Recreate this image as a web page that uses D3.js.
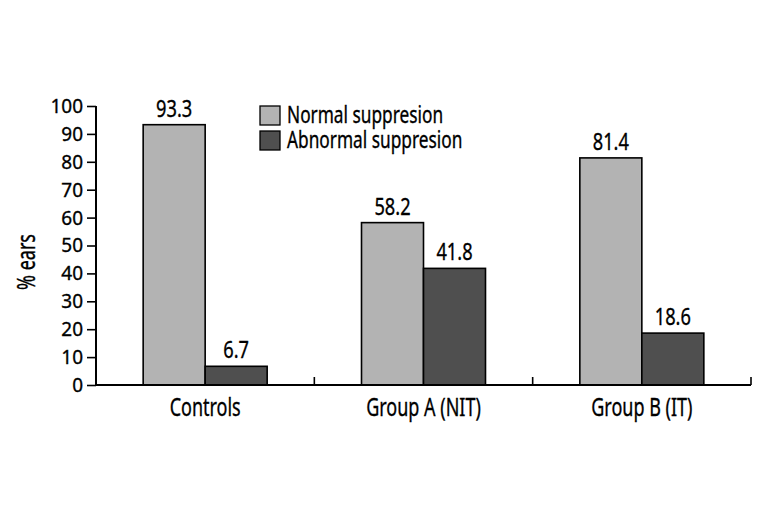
<!DOCTYPE html>
<html>
<head>
<meta charset="utf-8">
<script src="https://cdn.jsdelivr.net/npm/d3@7"></script>
<style>
  html, body { margin: 0; padding: 0; background: #fff; }
  svg text { font-family: "Noto Sans", "Open Sans", "DejaVu Sans", sans-serif; fill: #000; stroke: #000; stroke-width: 0.35px; }
</style>
</head>
<body>
<svg id="chart" width="771" height="514"></svg>
<script>
const categories = ["Controls", "Group A (NIT)", "Group B (IT)"];
const seriesNames = ["Normal suppresion", "Abnormal suppresion"];
const normalValues = [93.3, 58.2, 81.4];
const abnormalValues = [6.7, 41.8, 18.6];
const yTicks = [0, 10, 20, 30, 40, 50, 60, 70, 80, 90, 100];
const yTitle = "% ears";
const colors = ["#b3b3b3", "#4f4f4f"];

(function () {
const svg = d3.select("#chart");
const mLeft = 96, mRight = 751, mTop = 106, mBottom = 385;
const SX = 0.72, SXV = 0.76, SXT = 0.95; // horizontal condensing of the font

const x = d3.scaleBand().domain(categories).range([mLeft, mRight]).padding(0);
const inner = d3.scaleBand().domain(seriesNames).range([0, 124]).padding(0);
const y = d3.scaleLinear().domain([0, 100]).range([mBottom, mTop]);

const rows = categories.map((c, i) => ({ cat: c, vals: [normalValues[i], abnormalValues[i]] }));

// bars
const groups = svg.append("g").selectAll("g").data(rows).join("g")
  .attr("transform", d => `translate(${x(d.cat) + (x.bandwidth() - 124) / 2},0)`);

groups.selectAll("rect").data(d => d.vals.map((v, j) => ({ v, s: seriesNames[j], j })))
  .join("rect")
  .attr("x", d => inner(d.s))
  .attr("width", inner.bandwidth())
  .attr("y", d => y(d.v))
  .attr("height", d => y(0) - y(d.v))
  .attr("fill", d => colors[d.j])
  .attr("stroke", "#000")
  .attr("stroke-width", 1.6);

groups.selectAll("text.val").data(d => d.vals.map((v, j) => ({ v, s: seriesNames[j] })))
  .join("text")
  .attr("class", "val")
  .attr("transform", d => `translate(${inner(d.s) + inner.bandwidth() / 2},${y(d.v) - 8}) scale(${SXV},1)`)
  .attr("text-anchor", "middle")
  .style("font-size", "24px")
  .text(d => d.v.toFixed(1));

// y axis
const yAxis = svg.append("g").attr("transform", `translate(${mLeft},0)`)
  .call(d3.axisLeft(y).tickValues(yTicks).tickSize(9).tickPadding(4).tickFormat(d3.format("d")));
yAxis.attr("font-family", null).attr("font-size", null);
yAxis.select(".domain").attr("stroke", "#000").attr("stroke-width", 2).attr("d", `M0,${mBottom}V${mTop}`);
yAxis.selectAll(".tick line").attr("stroke", "#000").attr("stroke-width", 1.6);
yAxis.selectAll(".tick text").style("font-size", "20px")
  .attr("x", -13 / SXT).attr("transform", `scale(${SXT},1)`);

// x axis
const xAxisG = svg.append("g");
xAxisG.append("line").attr("x1", mLeft - 1).attr("x2", mRight).attr("y1", mBottom).attr("y2", mBottom)
  .attr("stroke", "#000").attr("stroke-width", 2);
xAxisG.selectAll("line.tk").data(categories).join("line")
  .attr("class", "tk")
  .attr("x1", d => x(d) + x.bandwidth()).attr("x2", d => x(d) + x.bandwidth())
  .attr("y1", mBottom).attr("y2", mBottom - 8)
  .attr("stroke", "#000").attr("stroke-width", 1.6);
xAxisG.selectAll("text").data(categories).join("text")
  .attr("transform", d => `translate(${x(d) + x.bandwidth() / 2},${mBottom + 31}) scale(${SX},1)`)
  .attr("text-anchor", "middle")
  .style("font-size", "25px")
  .text(d => d);

// y title
svg.append("text")
  .attr("transform", `translate(35,262) rotate(-90) scale(${SX},1)`)
  .attr("text-anchor", "middle")
  .style("font-size", "25px")
  .text(yTitle);

// legend
const legend = svg.append("g").attr("transform", "translate(260,106)");
const li = legend.selectAll("g").data(seriesNames).join("g")
  .attr("transform", (d, i) => `translate(0,${i * 25})`);
li.append("rect").attr("width", 20).attr("height", 19)
  .attr("fill", (d, i) => colors[i]).attr("stroke", "#000").attr("stroke-width", 1.3);
li.append("text").attr("transform", `translate(27,17) scale(${SX},1)`)
  .style("font-size", "24px").text(d => d);
})();
</script>
</body>
</html>
